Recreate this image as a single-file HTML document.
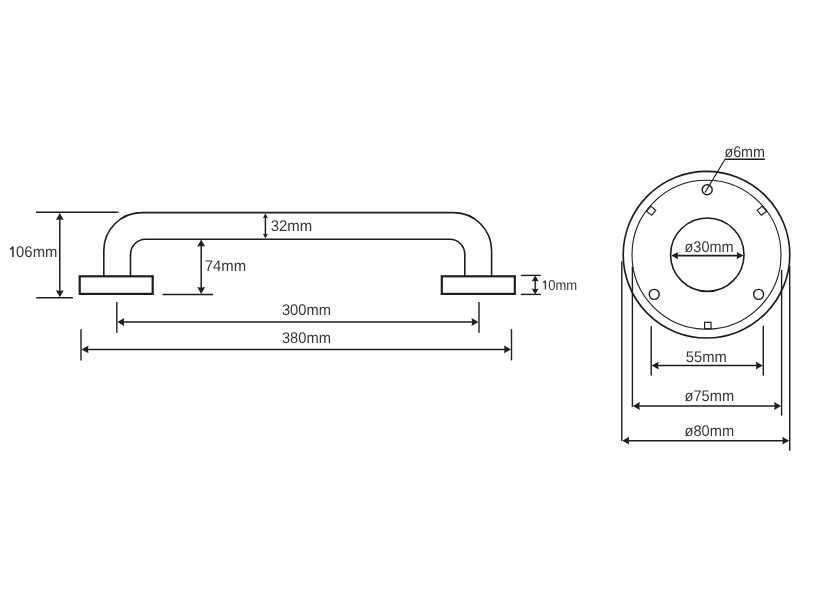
<!DOCTYPE html>
<html><head><meta charset="utf-8"><style>
html,body{margin:0;padding:0;background:#fff;width:818px;height:600px;overflow:hidden}
svg{display:block;will-change:transform}
text{font-family:"Liberation Sans",sans-serif;text-rendering:geometricPrecision}
</style></head><body>
<svg width="818" height="600" viewBox="0 0 818 600">
<rect width="818" height="600" fill="#fff"/>
<path d="M103.8 276.3 V250.6 A38 38 0 0 1 141.8 212.6 H453.6 A38 38 0 0 1 491.6 250.6 V276.3" fill="none" stroke="#1e1e1e" stroke-width="1.6"/>
<path d="M130.5 276.3 V254.3 A15 15 0 0 1 145.5 239.3 H449.8 A15 15 0 0 1 464.8 254.3 V276.3" fill="none" stroke="#1e1e1e" stroke-width="1.6"/>
<rect x="79.7" y="276.3" width="73" height="17.6" fill="none" stroke="#1e1e1e" stroke-width="2.2"/>
<rect x="441.8" y="276.3" width="73" height="17.6" fill="none" stroke="#1e1e1e" stroke-width="2.2"/>
<line x1="36.1" y1="212.2" x2="118.3" y2="212.2" stroke="#1e1e1e" stroke-width="1.4"/>
<line x1="36.2" y1="297.7" x2="72.9" y2="297.7" stroke="#1e1e1e" stroke-width="1.4"/>
<line x1="59.8" y1="217.1" x2="59.8" y2="293.1" stroke="#1e1e1e" stroke-width="1.5"/>
<polygon points="59.80,212.90 63.70,219.90 59.80,219.20 55.90,219.90" fill="#1e1e1e"/>
<polygon points="59.80,297.30 55.90,290.30 59.80,291.00 63.70,290.30" fill="#1e1e1e"/>
<path d="M12.9 257.0 V246.8 L10.2 249.6" fill="none" stroke="#383838" stroke-width="1.6" stroke-linejoin="bevel"/>
<text x="16.1" y="256.5" font-size="15.4" fill="#383838" textLength="41.30" lengthAdjust="spacingAndGlyphs">06mm</text>
<line x1="162.5" y1="294.5" x2="213" y2="294.5" stroke="#1e1e1e" stroke-width="1.4"/>
<line x1="201.2" y1="243.79999999999998" x2="201.2" y2="289.8" stroke="#1e1e1e" stroke-width="1.5"/>
<polygon points="201.20,239.60 205.10,246.60 201.20,245.90 197.30,246.60" fill="#1e1e1e"/>
<polygon points="201.20,294.00 197.30,287.00 201.20,287.70 205.10,287.00" fill="#1e1e1e"/>
<text x="204.8" y="271.09999999999997" font-size="15.4" fill="#383838" textLength="41.30" lengthAdjust="spacingAndGlyphs">74mm</text>
<line x1="265.4" y1="216.28" x2="265.4" y2="235.62" stroke="#1e1e1e" stroke-width="1.5"/>
<polygon points="265.40,213.40 268.00,218.20 265.40,217.50 262.80,218.20" fill="#1e1e1e"/>
<polygon points="265.40,238.50 262.80,233.70 265.40,234.40 268.00,233.70" fill="#1e1e1e"/>
<text x="270.7" y="231.1" font-size="15.4" fill="#383838" textLength="41.50" lengthAdjust="spacingAndGlyphs">32mm</text>
<line x1="520.8" y1="275.4" x2="540.8" y2="275.4" stroke="#1e1e1e" stroke-width="1.4"/>
<line x1="520.8" y1="294.4" x2="540.8" y2="294.4" stroke="#1e1e1e" stroke-width="1.4"/>
<line x1="535.2" y1="279.1" x2="535.2" y2="290.9" stroke="#1e1e1e" stroke-width="1.4"/>
<polygon points="535.20,275.50 538.70,281.50 535.20,280.80 531.70,281.50" fill="#1e1e1e"/>
<polygon points="535.20,294.50 531.70,288.50 535.20,289.20 538.70,288.50" fill="#1e1e1e"/>
<path d="M545.4 289.6 V280.79999999999995 L543.3 282.6" fill="none" stroke="#383838" stroke-width="1.4" stroke-linejoin="bevel"/>
<text x="548.2" y="289.7" font-size="14.2" fill="#383838" textLength="29.00" lengthAdjust="spacingAndGlyphs">0mm</text>
<line x1="116.8" y1="301.9" x2="116.8" y2="332.8" stroke="#1e1e1e" stroke-width="1.4"/>
<line x1="479.0" y1="301.9" x2="479.0" y2="332.8" stroke="#1e1e1e" stroke-width="1.4"/>
<line x1="121.5" y1="322.0" x2="474.3" y2="322.0" stroke="#1e1e1e" stroke-width="1.5"/>
<polygon points="117.30,322.00 124.30,318.10 123.60,322.00 124.30,325.90" fill="#1e1e1e"/>
<polygon points="478.50,322.00 471.50,325.90 472.20,322.00 471.50,318.10" fill="#1e1e1e"/>
<text x="281.9" y="314.9" font-size="15.4" fill="#383838" textLength="49.00" lengthAdjust="spacingAndGlyphs">300mm</text>
<line x1="81.0" y1="329.2" x2="81.0" y2="360.4" stroke="#1e1e1e" stroke-width="1.4"/>
<line x1="511.5" y1="329.2" x2="511.5" y2="360.4" stroke="#1e1e1e" stroke-width="1.4"/>
<line x1="85.7" y1="349.4" x2="506.8" y2="349.4" stroke="#1e1e1e" stroke-width="1.5"/>
<polygon points="81.50,349.40 88.50,345.50 87.80,349.40 88.50,353.30" fill="#1e1e1e"/>
<polygon points="511.00,349.40 504.00,353.30 504.70,349.40 504.00,345.50" fill="#1e1e1e"/>
<text x="281.9" y="343.09999999999997" font-size="15.4" fill="#383838" textLength="49.00" lengthAdjust="spacingAndGlyphs">380mm</text>
<circle cx="706.5" cy="254.7" r="83.3" fill="none" stroke="#1e1e1e" stroke-width="1.65"/>
<circle cx="706.5" cy="254.7" r="74.5" fill="none" stroke="#1e1e1e" stroke-width="1.1"/>
<circle cx="707.3" cy="254.7" r="36.7" fill="none" stroke="#1e1e1e" stroke-width="1.6"/>
<circle cx="707.2" cy="189.8" r="5.0" fill="none" stroke="#1e1e1e" stroke-width="1.4"/>
<circle cx="654.2" cy="294.35" r="5.0" fill="none" stroke="#1e1e1e" stroke-width="1.4"/>
<circle cx="758.6" cy="294.35" r="5.0" fill="none" stroke="#1e1e1e" stroke-width="1.4"/>
<polygon points="650.75,206.1 655.75,210.25 651.75,215.25 646.5,211.5" fill="none" stroke="#1e1e1e" stroke-width="1.2"/>
<polygon points="762.25,206.1 757.25,210.25 761.25,215.25 766.5,211.5" fill="none" stroke="#1e1e1e" stroke-width="1.2"/>
<rect x="704.6" y="322.3" width="6.4" height="6.4" fill="none" stroke="#1e1e1e" stroke-width="1.2"/>
<line x1="675.4000000000001" y1="255.6" x2="739.4" y2="255.6" stroke="#1e1e1e" stroke-width="1.6"/>
<polygon points="671.20,255.60 678.20,251.90 677.50,255.60 678.20,259.30" fill="#1e1e1e"/>
<polygon points="743.60,255.60 736.60,259.30 737.30,255.60 736.60,251.90" fill="#1e1e1e"/>
<text x="684.5" y="252.0" font-size="15.4" fill="#383838" textLength="49.10" lengthAdjust="spacingAndGlyphs">ø30mm</text>
<line x1="705.0" y1="192.5" x2="725.2" y2="159.0" stroke="#1e1e1e" stroke-width="1.2"/>
<line x1="725.0" y1="159.3" x2="764.9" y2="159.3" stroke="#1e1e1e" stroke-width="1.5"/>
<text x="724.4" y="157.29999999999998" font-size="15.4" fill="#383838" textLength="40.60" lengthAdjust="spacingAndGlyphs">ø6mm</text>
<line x1="651.2" y1="326.0" x2="651.2" y2="375.5" stroke="#1e1e1e" stroke-width="1.4"/>
<line x1="763.3" y1="325.8" x2="763.3" y2="375.5" stroke="#1e1e1e" stroke-width="1.4"/>
<line x1="655.9000000000001" y1="365.6" x2="758.5999999999999" y2="365.6" stroke="#1e1e1e" stroke-width="1.5"/>
<polygon points="651.70,365.60 658.70,361.70 658.00,365.60 658.70,369.50" fill="#1e1e1e"/>
<polygon points="762.80,365.60 755.80,369.50 756.50,365.60 755.80,361.70" fill="#1e1e1e"/>
<text x="685.7" y="362.2" font-size="15.4" fill="#383838" textLength="41.10" lengthAdjust="spacingAndGlyphs">55mm</text>
<line x1="632.4" y1="266.7" x2="632.4" y2="407.0" stroke="#1e1e1e" stroke-width="1.4"/>
<line x1="781.6" y1="270.0" x2="781.6" y2="415.7" stroke="#1e1e1e" stroke-width="1.4"/>
<line x1="637.1" y1="406.0" x2="776.9" y2="406.0" stroke="#1e1e1e" stroke-width="1.5"/>
<polygon points="632.90,406.00 639.90,402.10 639.20,406.00 639.90,409.90" fill="#1e1e1e"/>
<polygon points="781.10,406.00 774.10,409.90 774.80,406.00 774.10,402.10" fill="#1e1e1e"/>
<text x="684.5" y="400.5" font-size="15.4" fill="#383838" textLength="49.70" lengthAdjust="spacingAndGlyphs">ø75mm</text>
<line x1="621.8" y1="261.3" x2="621.8" y2="440.9" stroke="#1e1e1e" stroke-width="1.4"/>
<line x1="789.7" y1="265.8" x2="789.7" y2="450.7" stroke="#1e1e1e" stroke-width="1.4"/>
<line x1="626.5" y1="440.7" x2="785.0" y2="440.7" stroke="#1e1e1e" stroke-width="1.5"/>
<polygon points="622.30,440.70 629.30,436.80 628.60,440.70 629.30,444.60" fill="#1e1e1e"/>
<polygon points="789.20,440.70 782.20,444.60 782.90,440.70 782.20,436.80" fill="#1e1e1e"/>
<text x="684.5" y="436.0" font-size="15.4" fill="#383838" textLength="49.70" lengthAdjust="spacingAndGlyphs">ø80mm</text>
</svg>
</body></html>
